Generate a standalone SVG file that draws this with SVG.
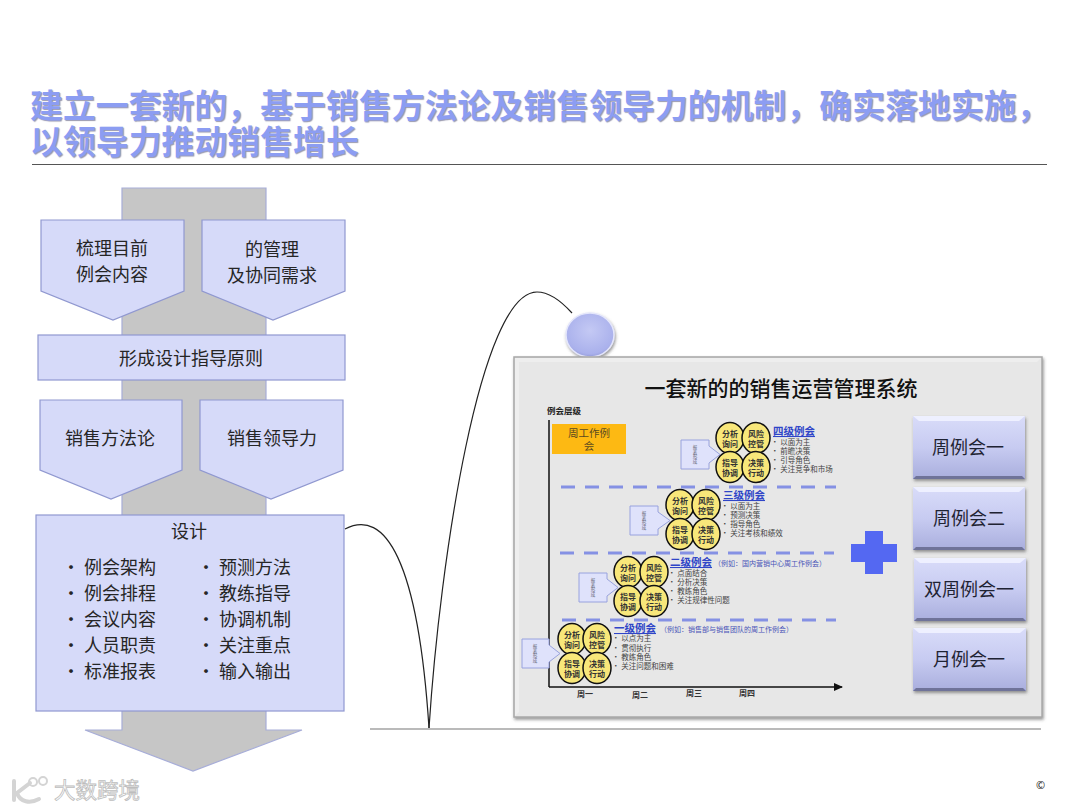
<svg xmlns="http://www.w3.org/2000/svg" width="1080" height="810" viewBox="0 0 1080 810">
<style>
text{font-family:"Noto Sans CJK SC","Liberation Sans",sans-serif;fill:#262626}
.title{font-size:32.900px;font-weight:700;fill:#8c9df2;text-shadow:1px 1px 1px #9a9ab0}
.big{font-size:18px;text-anchor:middle}
.list{font-size:18px}
.shape{fill:#d6daf9;stroke:#9098d0;stroke-width:1.2}
.btn{font-size:18px;text-anchor:middle;fill:#1f2333}
.circ{fill:#f8e77a;stroke:#111;stroke-width:1.5}
.ct{font-size:8px;font-weight:700;text-anchor:middle;fill:#333}
.lvl{font-size:10.500px;font-weight:700;fill:#2f45c8;text-decoration:underline}
.ex{font-size:7px;fill:#4a55b8}
.it{font-size:7.500px;fill:#444}
.tiny{font-size:4.500px;text-anchor:middle;fill:#667;writing-mode:vertical-rl}
.ax{font-size:8px;font-weight:700;text-anchor:middle;fill:#333}
.dash{stroke:#8591e4;stroke-width:3;stroke-dasharray:14 10;fill:none}
.inbox{fill:#dfe2fb;stroke:#98a2de;stroke-width:1}
.curve{fill:none;stroke:#222;stroke-width:1.2}
.hi{fill:#eef0ff}
.lo{fill:#6f7399}
</style>
<defs>
<linearGradient id="btnG" x1="0" y1="0" x2="0" y2="1"><stop offset="0" stop-color="#d9dcf9"/><stop offset=".5" stop-color="#c7cbf1"/><stop offset="1" stop-color="#a9aedd"/></linearGradient>
<radialGradient id="ballG" cx=".5" cy=".4" r=".65"><stop offset="0" stop-color="#c4c9f4"/><stop offset=".8" stop-color="#aab1ec"/><stop offset="1" stop-color="#8e95d4"/></radialGradient>
<filter id="sh" x="-10%" y="-10%" width="120%" height="120%"><feDropShadow dx="1" dy="2" stdDeviation="1.5" flood-color="#555" flood-opacity=".6"/></filter>
<marker id="arr" markerWidth="10" markerHeight="10" refX="8" refY="4" orient="auto" markerUnits="userSpaceOnUse"><path d="M0 0L9 4L0 8Z" fill="#111"/></marker>
</defs>
<rect width="1080" height="810" fill="#fff"/>

<g id="title">
<text class="title" x="30" y="118">建立一套新的&#65292;基于销售方法论及销售领导力的机制&#65292;确实落地实施&#65292;</text>
<text class="title" x="30" y="154">以领导力推动销售增长</text>
<line x1="32" y1="164.500" x2="1047" y2="164.500" stroke="#555" stroke-width="1.2"/>
</g>

<g id="bigArrow"><path d="M122 188H266V730H302L193 771L85 730H122Z" fill="#c6c6c6" stroke="#a7add8" stroke-width="1.2"/></g>
<g id="n1"><path class="shape" d="M41 220H184V291L113 320L41 291Z"/><text class="big" x="112" y="255">梳理目前</text><text class="big" x="112" y="281">例会内容</text></g>
<g id="n2"><path class="shape" d="M202 220H345V291L273 320L202 291Z"/><text class="big" x="272" y="256">的管理</text><text class="big" x="272" y="282">及协同需求</text></g>
<g id="n3"><rect class="shape" x="38" y="335" width="307" height="45"/><text class="big" x="191" y="365">形成设计指导原则</text></g>
<g id="n4"><path class="shape" d="M40 400H182V470L111 499L40 470Z"/><text class="big" x="110" y="445">销售方法论</text></g>
<g id="n5"><path class="shape" d="M200 400H343V470L271 499L200 470Z"/><text class="big" x="272" y="445">销售领导力</text></g>
<g id="n6"><rect class="shape" x="36" y="515" width="308" height="196"/>
<text class="big" x="189" y="538">设计</text>
<text class="list" x="62" y="574">• 例会架构</text><text class="list" x="62" y="600">• 例会排程</text><text class="list" x="62" y="626">• 会议内容</text><text class="list" x="62" y="652">• 人员职责</text><text class="list" x="62" y="678">• 标准报表</text>
<text class="list" x="197" y="574">• 预测方法</text><text class="list" x="197" y="600">• 教练指导</text><text class="list" x="197" y="626">• 协调机制</text><text class="list" x="197" y="652">• 关注重点</text><text class="list" x="197" y="678">• 输入输出</text>
</g>

<g id="connectors">
<path class="curve" d="M345 529C385 508 418 560 429 728"/>
<path class="curve" d="M429 728C440 560 480 292 537 292C550 292 562 302 572 313"/>
<line x1="370" y1="729" x2="1041" y2="729" stroke="#777" stroke-width="1.2"/>
</g>

<g id="ball"><ellipse cx="590" cy="335" rx="24" ry="22" fill="url(#ballG)" stroke="#e4e6fb" stroke-width="1.500" filter="url(#sh)"/></g>

<g id="panel">
<rect x="514" y="357" width="528" height="360" fill="#e7e7e7" stroke="#a8a8a8" stroke-width="1.500" filter="url(#sh)"/>
<path d="M515 358H1041L1037 362H519V712L515 716Z" fill="#eeeeee"/>
<text x="781" y="396" font-size="21" font-weight="500" text-anchor="middle" style="fill:#111">一套新的的销售运营管理系统</text>
<text x="547" y="414" font-size="8.500" font-weight="700" style="fill:#222">例会层级</text>
<line x1="549" y1="420" x2="549" y2="687" stroke="#333" stroke-width="1.800"/>
<line x1="549" y1="687" x2="842" y2="687" stroke="#111" stroke-width="1.500" marker-end="url(#arr)"/>
<rect x="552" y="424" width="74" height="30" fill="#fdb913"/>
<text x="589" y="437" font-size="10.500" text-anchor="middle" style="fill:#5a4a20">周工作例</text>
<text x="589" y="450" font-size="10.500" text-anchor="middle" style="fill:#5a4a20">会</text>
<line class="dash" x1="561" y1="487" x2="836" y2="487"/>
<line class="dash" x1="560" y1="553" x2="834" y2="553"/>
<line class="dash" x1="562" y1="620" x2="836" y2="620"/>
<text class="ax" x="585" y="697">周一</text><text class="ax" x="640" y="698">周二</text><text class="ax" x="694" y="696">周三</text><text class="ax" x="747" y="696">周四</text>
</g>

<g id="level4"><path class="inbox" d="M681 440H709V446L720 454.500L709 463V469H681Z"/><text class="tiny" x="695" y="454.500">报表形成</text>
<ellipse class="circ" cx="730" cy="438" rx="14" ry="15.500"/><ellipse class="circ" cx="756" cy="438" rx="14" ry="15.500"/><ellipse class="circ" cx="730" cy="467" rx="14" ry="15.500"/><ellipse class="circ" cx="756" cy="467" rx="14" ry="15.500"/>
<text class="ct" x="730" y="437">分析</text><text class="ct" x="730" y="447">询问</text><text class="ct" x="756" y="437">风险</text><text class="ct" x="756" y="447">控管</text><text class="ct" x="730" y="466">指导</text><text class="ct" x="730" y="476">协调</text><text class="ct" x="756" y="466">决策</text><text class="ct" x="756" y="476">行动</text>
<text class="lvl" x="773" y="435">四级例会</text><text class="it" x="771" y="445">• 以面为主</text><text class="it" x="771" y="454">• 前瞻决策</text><text class="it" x="771" y="463">• 引导角色</text><text class="it" x="771" y="472">• 关注竞争和市场</text></g>

<g id="level3"><path class="inbox" d="M630 506H658V512L670 520.500L658 529V535H630Z"/><text class="tiny" x="644" y="520.500">报表形成</text>
<ellipse class="circ" cx="680" cy="505" rx="14" ry="15.500"/><ellipse class="circ" cx="706" cy="505" rx="14" ry="15.500"/><ellipse class="circ" cx="680" cy="534" rx="14" ry="15.500"/><ellipse class="circ" cx="706" cy="534" rx="14" ry="15.500"/>
<text class="ct" x="680" y="504">分析</text><text class="ct" x="680" y="514">询问</text><text class="ct" x="706" y="504">风险</text><text class="ct" x="706" y="514">控管</text><text class="ct" x="680" y="533">指导</text><text class="ct" x="680" y="543">协调</text><text class="ct" x="706" y="533">决策</text><text class="ct" x="706" y="543">行动</text>
<text class="lvl" x="723" y="499">三级例会</text><text class="it" x="721" y="509">• 以面为主</text><text class="it" x="721" y="518">• 预测决策</text><text class="it" x="721" y="527">• 指导角色</text><text class="it" x="721" y="536">• 关注考核和绩效</text></g>

<g id="level2"><path class="inbox" d="M579 573H607V579L618 587.500L607 596V602H579Z"/><text class="tiny" x="593" y="587.500">报表形成</text>
<ellipse class="circ" cx="628" cy="572" rx="14" ry="15.500"/><ellipse class="circ" cx="654" cy="572" rx="14" ry="15.500"/><ellipse class="circ" cx="628" cy="601" rx="14" ry="15.500"/><ellipse class="circ" cx="654" cy="601" rx="14" ry="15.500"/>
<text class="ct" x="628" y="571">分析</text><text class="ct" x="628" y="581">询问</text><text class="ct" x="654" y="571">风险</text><text class="ct" x="654" y="581">控管</text><text class="ct" x="628" y="600">指导</text><text class="ct" x="628" y="610">协调</text><text class="ct" x="654" y="600">决策</text><text class="ct" x="654" y="610">行动</text>
<text class="lvl" x="670" y="566">二级例会</text><text class="ex" x="714" y="566">&#65288;例如&#65306;国内营销中心周工作例会&#65289;</text><text class="it" x="668" y="576">• 点面结合</text><text class="it" x="668" y="585">• 分析决策</text><text class="it" x="668" y="594">• 教练角色</text><text class="it" x="668" y="603">• 关注规律性问题</text></g>

<g id="level1"><path class="inbox" d="M522 639H549V645L560 653.500L549 662V668H522Z"/><text class="tiny" x="535" y="653.500">报表形成</text>
<ellipse class="circ" cx="572" cy="639" rx="14" ry="15.500"/><ellipse class="circ" cx="597" cy="639" rx="14" ry="15.500"/><ellipse class="circ" cx="572" cy="668" rx="14" ry="15.500"/><ellipse class="circ" cx="597" cy="668" rx="14" ry="15.500"/>
<text class="ct" x="572" y="638">分析</text><text class="ct" x="572" y="648">询问</text><text class="ct" x="597" y="638">风险</text><text class="ct" x="597" y="648">控管</text><text class="ct" x="572" y="667">指导</text><text class="ct" x="572" y="677">协调</text><text class="ct" x="597" y="667">决策</text><text class="ct" x="597" y="677">行动</text>
<text class="lvl" x="614" y="632">一级例会</text><text class="ex" x="660" y="632">&#65288;例如&#65306;销售部与销售团队的周工作例会&#65289;</text><text class="it" x="612" y="641">• 以点为主</text><text class="it" x="612" y="651">• 贯彻执行</text><text class="it" x="612" y="660">• 教练角色</text><text class="it" x="612" y="669">• 关注问题和困难</text></g>

<g id="plus"><path d="M865 531H883V544H897V562H883V574H865V562H851V544H865Z" fill="#5468f2"/></g>

<g id="b1"><rect x="913" y="416" width="112" height="63" fill="url(#btnG)" filter="url(#sh)"/><path class="hi" d="M913 416H1025L1019 421H919Z"/><path class="lo" d="M913 479H1025L1022 476H916Z"/><text class="btn" x="968" y="454">周例会一</text></g>
<g id="b2"><rect x="913" y="487" width="112" height="63" fill="url(#btnG)" filter="url(#sh)"/><path class="hi" d="M913 487H1025L1019 492H919Z"/><path class="lo" d="M913 550H1025L1022 547H916Z"/><text class="btn" x="969" y="525">周例会二</text></g>
<g id="b3"><rect x="914" y="558" width="112" height="63" fill="url(#btnG)" filter="url(#sh)"/><path class="hi" d="M914 558H1026L1020 563H920Z"/><path class="lo" d="M914 621H1026L1023 618H917Z"/><text class="btn" x="969" y="596">双周例会一</text></g>
<g id="b4"><rect x="913" y="628" width="113" height="63" fill="url(#btnG)" filter="url(#sh)"/><path class="hi" d="M913 628H1026L1020 633H919Z"/><path class="lo" d="M913 691H1026L1023 688H916Z"/><text class="btn" x="969" y="666">月例会一</text></g>

<g id="watermark">
<path d="M14 781V800M30 783L17 793C20 802 30 804 39 799" fill="none" stroke="#d4d4d4" stroke-width="4" stroke-linecap="round"/>
<circle cx="33" cy="782" r="4" fill="none" stroke="#d4d4d4" stroke-width="2"/><circle cx="43" cy="781" r="4" fill="none" stroke="#d4d4d4" stroke-width="2"/>
<text x="54" y="798" font-size="21.500" style="fill:#fff;stroke:#bdbdbd;stroke-width:.8">大数跨境</text>
</g>
<text x="1036" y="789" font-size="11" style="fill:#222">©</text>
</svg>
